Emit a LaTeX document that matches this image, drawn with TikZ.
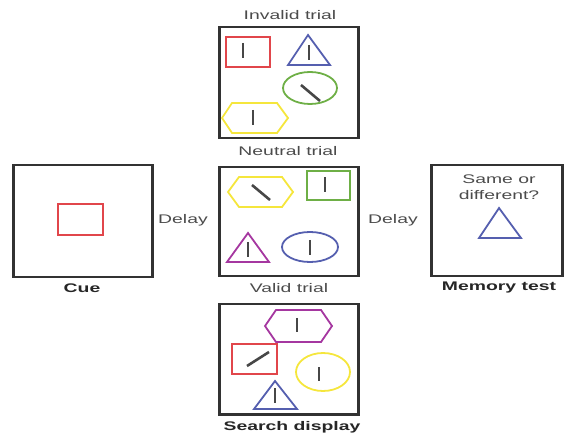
\documentclass[tikz,border=0pt]{standalone}
\usepackage{fontspec}
\setmainfont{Liberation Sans}
\definecolor{cred}{RGB}{225,70,75}
\definecolor{cblue}{RGB}{85,95,175}
\definecolor{cgreen}{RGB}{110,175,70}
\definecolor{cyellow}{RGB}{245,230,60}
\definecolor{cpurple}{RGB}{165,55,160}
\definecolor{framec}{RGB}{50,50,50}
\definecolor{txtc}{RGB}{75,75,75}
\newcommand\widetext[1]{\scalebox{1.55}[1]{#1}}
\begin{document}
\begin{tikzpicture}[x=1pt,y=-1pt,
  panel/.style={draw=framec,line width=2.5pt,inner sep=0pt,anchor=north west},
  lab/.style={text=txtc,font=\fontsize{12.5}{14}\selectfont,inner sep=0pt},
  blab/.style={text=black!85,font=\fontsize{12.5}{14}\selectfont\bfseries,inner sep=0pt},
  shp/.style={line width=1.8pt},
  bar/.style={draw=black!72,line width=2.6pt}]
\useasboundingbox (0,0) rectangle (565,438);
% panels
\node[panel,minimum width=139pt,minimum height=111pt] (invalid) at (218,26) {};
\node[panel,minimum width=139pt,minimum height=109pt] (neutral) at (218,166) {};
\node[panel,minimum width=139pt,minimum height=110pt] (search) at (218,303) {};
\node[panel,minimum width=139pt,minimum height=112pt] (cue) at (12,164) {};
\node[panel,minimum width=131pt,minimum height=111pt] (memory) at (430,164) {};
% labels
\node[lab] (tinvalid) at (290,15) {\widetext{Invalid trial}};
\node[lab] (tneutral) at (288,151) {\widetext{Neutral trial}};
\node[lab] (tvalid) at (289,288) {\widetext{Valid trial}};
\node[blab] (tsearch) at (292,427) {\widetext{Search display}};
\node[blab] (tcue) at (82,288) {\widetext{Cue}};
\node[blab] (tmemory) at (499,287) {\widetext{Memory test}};
\node[lab] (delay1) at (183,220) {\widetext{Delay}};
\node[lab] (delay2) at (393,220) {\widetext{Delay}};
\node[lab] (same) at (499,179) {\widetext{Same or}};
\node[lab] (diff) at (499,195) {\widetext{different?}};
% cue
\draw[shp,cred] (58,204) rectangle (103,235);
% memory test
\draw[shp,cblue] (499,208) -- (521,238) -- (479,238) -- cycle;
% invalid trial
\draw[shp,cred] (226,37) rectangle (270,67);
\draw[bar] (243,43) -- (243,58);
\draw[shp,cblue] (308,35) -- (330,65) -- (288,65) -- cycle;
\draw[bar] (309,45) -- (309,60);
\draw[shp,cgreen] (310,88) ellipse [x radius=27, y radius=16];
\draw[bar] (301,85) -- (320,101);
\draw[shp,cyellow] (222,118) -- (232,103) -- (277,103) -- (288,118) -- (277,133) -- (232,133) -- cycle;
\draw[bar] (253,110) -- (253,125);
% neutral trial
\draw[shp,cyellow] (228,192) -- (239,177) -- (282,177) -- (293,192) -- (282,207) -- (239,207) -- cycle;
\draw[bar] (252,185) -- (270,200);
\draw[shp,cgreen] (307,171) rectangle (350,200);
\draw[bar] (325,177) -- (325,192);
\draw[shp,cpurple] (248,233) -- (269,262) -- (227,262) -- cycle;
\draw[bar] (248,242) -- (248,257);
\draw[shp,cblue] (310,247) ellipse [x radius=28, y radius=15];
\draw[bar] (310,240) -- (310,255);
% search display (valid)
\draw[shp,cpurple] (265,326) -- (276,310) -- (321,310) -- (332,326) -- (321,342) -- (276,342) -- cycle;
\draw[bar] (297,318) -- (297,332);
\draw[shp,cred] (232,344) rectangle (277,374);
\draw[bar] (247,366) -- (269,352);
\draw[shp,cyellow] (323,372) ellipse [x radius=27, y radius=19];
\draw[bar] (319,367) -- (319,381);
\draw[shp,cblue] (275,381) -- (297,409) -- (254,409) -- cycle;
\draw[bar] (275,388) -- (275,403);
\end{tikzpicture}
\end{document}
